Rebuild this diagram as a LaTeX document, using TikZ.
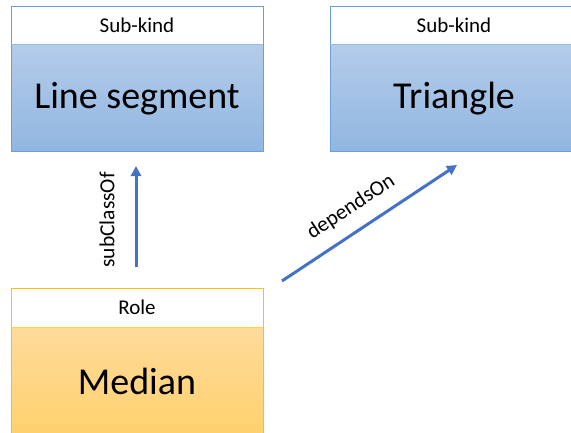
\documentclass[tikz,border=0pt]{standalone}
\usepackage{fontspec}
\setmainfont{Carlito}
\usetikzlibrary{arrows.meta}
\definecolor{bluetop}{HTML}{B3CCEA}
\definecolor{bluebot}{HTML}{92B6E1}
\definecolor{blueline}{HTML}{6C9ED8}
\definecolor{orangetop}{HTML}{FFDB9C}
\definecolor{orangebot}{HTML}{FFD06A}
\definecolor{orangeline}{HTML}{FFC000}
\definecolor{arrowblue}{HTML}{4472C4}
\tikzset{
  hdrtext/.style={font=\fontsize{21}{24}\selectfont, inner sep=0pt},
  bigtext/.style={font=\fontsize{38}{42}\selectfont, inner sep=0pt},
  lbltext/.style={font=\fontsize{21.5}{24}\selectfont, inner sep=0pt},
  rel/.style={draw=arrowblue, line width=3pt, -{Triangle[length=10pt,width=10pt]}},
}
\begin{document}
\begin{tikzpicture}[x=1pt,y=-1pt]
\useasboundingbox (0,0) rectangle (571,432);
\clip (0,0) rectangle (571,432);
% Box 1: Line segment
\shade[top color=bluetop, bottom color=bluebot] (11,44) rectangle (263,151);
\draw[blueline, line width=1pt] (11,6) rectangle (263,151);
\draw[blueline!70, line width=1pt] (11,44) -- (263,44);
\node[hdrtext] (h1) at (137,25) {Sub-kind};
\node[bigtext] (b1) at (137,99) {Line segment};
% Box 2: Triangle
\shade[top color=bluetop, bottom color=bluebot] (330,44) rectangle (575,151);
\draw[blueline, line width=1pt] (330,6) rectangle (575,151);
\draw[blueline!70, line width=1pt] (330,44) -- (575,44);
\node[hdrtext] (h2) at (454,25) {Sub-kind};
\node[bigtext] (b2) at (454,99) {Triangle};
% Box 3: Median
\shade[top color=orangetop, bottom color=orangebot] (11,327) rectangle (263,440);
\draw[orangeline, line width=1pt] (11,288) rectangle (263,440);
\draw[orangeline!70, line width=1pt] (11,327) -- (263,327);
\node[hdrtext] (h3) at (137,307) {Role};
\node[bigtext] (b3) at (137,381) {Median};
% connectors
\coordinate (s1) at (136,267);
\coordinate (e1) at (136,166);
\draw[rel] (s1) -- (e1);
\node[lbltext, rotate=90] (l1) at (107,220) {subClassOf};
\coordinate (s2) at (282,281);
\coordinate (e2) at (457,165);
\draw[rel] (s2) -- (e2);
\node[lbltext, rotate=33.5] (l2) at (351,207) {dependsOn};
\end{tikzpicture}
\end{document}
